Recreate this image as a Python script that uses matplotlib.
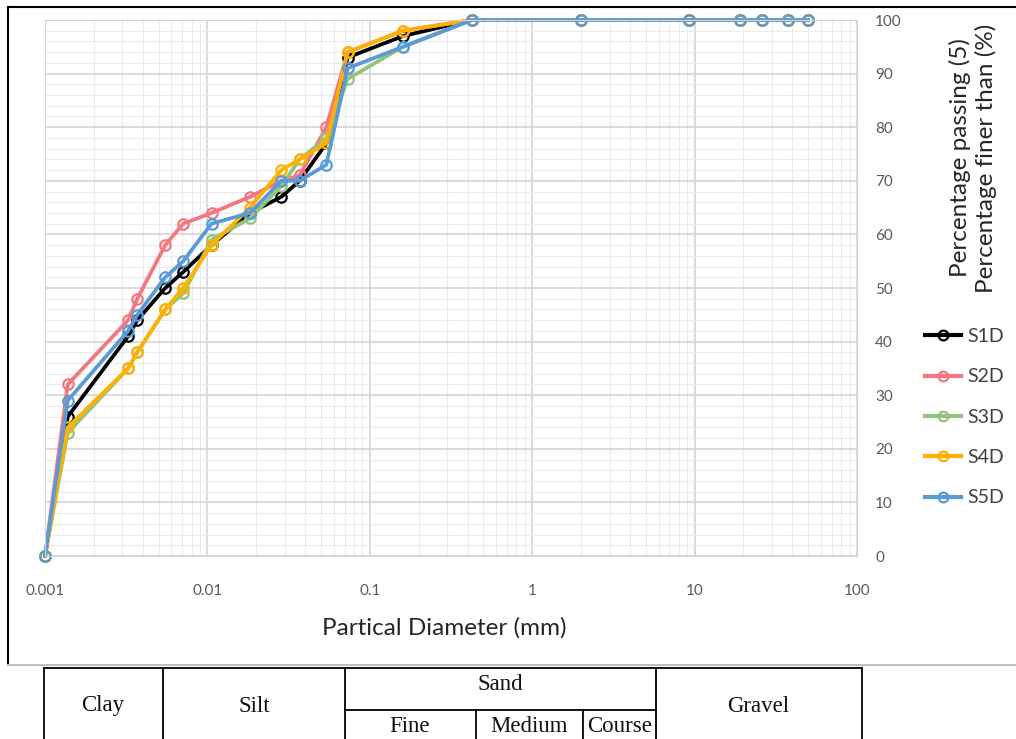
import numpy as np
import matplotlib.pyplot as plt
from matplotlib.lines import Line2D

# particle size data (mm) and percent finer
d = [0.001, 0.00138, 0.00325, 0.0037, 0.0055, 0.0071, 0.0106, 0.0183, 0.0285, 0.037, 0.054, 0.073, 0.16, 0.425, 2, 9.3, 19, 26, 37.5, 50]

s1d = [0, 26, 41, 44, 50, 53, 58, 64, 67, 70, 77, 93, 97, 100, 100, 100, 100, 100, 100, 100]
s2d = [0, 32, 44, 48, 58, 62, 64, 67, 70, 71, 80, 94, 98, 100, 100, 100, 100, 100, 100, 100]
s3d = [0, 23, 35, 38, 46, 49, 59, 63, 69, 74, 78, 89, 95, 100, 100, 100, 100, 100, 100, 100]
s4d = [0, 24, 35, 38, 46, 50, 58, 65, 72, 74, 77, 94, 98, 100, 100, 100, 100, 100, 100, 100]
s5d = [0, 29, 42, 45, 52, 55, 62, 64, 70, 70, 73, 91, 95, 100, 100, 100, 100, 100, 100, 100]

names = ['S1D', 'S2D', 'S3D', 'S4D', 'S5D']
colors = ['#000000', '#f4777f', '#93c47d', '#ffb000', '#5b9bd5']

xticks = [0.001, 0.01, 0.1, 1, 10, 100]
xlabels = ['0.001', '0.01', '0.1', '1', '10', '100']
yticks = [0, 10, 20, 30, 40, 50, 60, 70, 80, 90, 100]

# soil classification table
top_cells = ['Clay', 'Silt', 'Sand', 'Gravel']
sand_cells = ['Fine', 'Medium', 'Course']

W, H = 1016, 739
fig = plt.figure(figsize=(W / 100, H / 100), dpi=100)
plt.rcParams['font.family'] = ['Lato', 'DejaVu Sans']

ax = fig.add_axes([45 / W, 1 - 556 / H, (857 - 45) / W, (556 - 20) / H])
for y, c, n in zip([s1d, s2d, s3d, s4d, s5d], colors, names):
    ax.plot(d, y, color=c, lw=2.7, marker='o', ms=7.5, mfc='none', mew=1.6, label=n, clip_on=False)

ax.set_xscale('log')
ax.set_xlim(0.001, 100)
ax.set_ylim(0, 100)
ax.set_xticks(xticks)
ax.set_xticklabels(xlabels)
ax.set_yticks(yticks)
ax.set_yticks(np.arange(0, 101, 2), minor=True)
ax.yaxis.tick_right()
ax.tick_params(which='both', length=0)
ax.tick_params(axis='x', pad=20, labelsize=11, labelcolor='#595959')
ax.tick_params(axis='y', pad=13, labelsize=11, labelcolor='#595959')
ax.grid(which='major', color='#d4d4d4', lw=1.2)
ax.grid(which='minor', color='#ebebeb', lw=0.8)
ax.set_axisbelow(True)
for sp in ax.spines.values():
    sp.set_color('#d4d4d4')

fig.text(444 / W, 1 - 628 / H, 'Partical Diameter (mm)', ha='center', va='center', fontsize=17.5, color='#262626')
fig.text(973 / W, 1 - 158 / H, 'Percentage passing (5)\nPercentage finer than (%)', rotation=90,
         ha='center', va='center', fontsize=17.5, color='#262626', linespacing=1.25)

handles = [Line2D([], [], color=c, lw=3, marker='o', ms=7, mfc='none', mew=1.6) for c in colors]
fig.legend(handles, names, loc='upper left', bbox_to_anchor=(925 / W, 1 - 328 / H), frameon=False,
           borderpad=0, borderaxespad=0, fontsize=14, labelspacing=1.2, handlelength=1.85,
           handletextpad=0.35, labelcolor='#404040')

# frame lines of the figure
fig.add_artist(Line2D([8 / W, 1], [1 - 7 / H, 1 - 7 / H], color='black', lw=1.5))
fig.add_artist(Line2D([8 / W, 8 / W], [1 - 7 / H, 1 - 665 / H], color='black', lw=1.5))
fig.add_artist(Line2D([8 / W, 1], [1 - 665 / H, 1 - 665 / H], color='#bfbfbf', lw=1.5))

# classification table at the bottom
def hl(x0, x1, y):
    fig.add_artist(Line2D([x0 / W, x1 / W], [1 - y / H, 1 - y / H], color='black', lw=1.3))

def vl(x, y0, y1):
    fig.add_artist(Line2D([x / W, x / W], [1 - y0 / H, 1 - y1 / H], color='black', lw=1.3))

hl(44, 862, 668)
hl(345, 656, 710)
for x in [44, 163, 345, 656, 862]:
    vl(x, 668, 739)
for x in [476, 583]:
    vl(x, 710, 739)

serif = dict(family='Liberation Serif', fontsize=16.5, ha='center', va='center', color='#111111')
for x, t in zip([103, 254, 500, 758], top_cells):
    yy = 685 if t == 'Sand' else 706
    fig.text(x / W, 1 - yy / H, t, **serif)
for x, t in zip([410, 529, 620], sand_cells):
    fig.text(x / W, 1 - 727 / H, t, **serif)

fig.savefig('out.png', dpi=100)
